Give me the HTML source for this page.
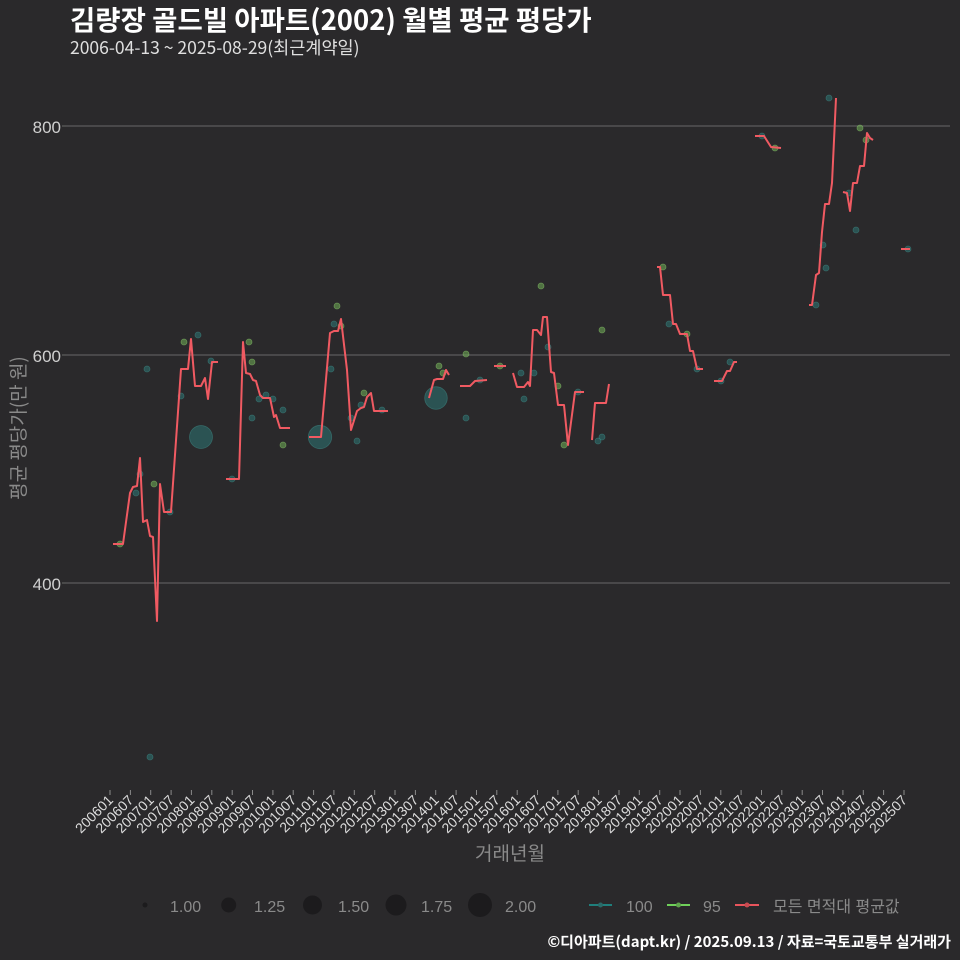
<!DOCTYPE html>
<html><head><meta charset="utf-8"><style>
html,body{margin:0;padding:0;background:#2a292b;}
svg{display:block;}
text{font-family:"Liberation Sans","Noto Sans CJK KR",sans-serif;}
.k{font-family:"Noto Sans CJK KR","Liberation Sans",sans-serif;}
</style></head><body>
<svg width="960" height="960" viewBox="0 0 960 960" xmlns="http://www.w3.org/2000/svg">
<rect width="960" height="960" fill="#2a292b"/>
<text class="k" x="70" y="30" font-size="27.5" font-weight="700" fill="#ffffff">김량장 골드빌 아파트(2002) 월별 평균 평당가</text>
<text class="k" x="70" y="54" font-size="17.5" fill="#e0e0e0">2006-04-13 ~ 2025-08-29(최근계약일)</text>

<g stroke="#5c5c5c" stroke-width="1.3">
<line x1="66" y1="126" x2="950" y2="126"/>
<line x1="66" y1="355" x2="950" y2="355"/>
<line x1="66" y1="583" x2="950" y2="583"/>
<line x1="62" y1="126" x2="66" y2="126"/>
<line x1="62" y1="355" x2="66" y2="355"/>
<line x1="62" y1="583" x2="66" y2="583"/>
</g>
<g font-size="17" fill="#d0d0d0" text-anchor="end">
<text x="61" y="133">800</text>
<text x="61" y="362">600</text>
<text x="61" y="590">400</text>
</g>
<text class="k" transform="translate(25,428) rotate(-90)" font-size="19" fill="#8a8a8a" text-anchor="middle">평균 평당가(만 원)</text>

<!-- points -->
<g fill="#2c7e7c" fill-opacity="0.5" stroke="#3f8f8c" stroke-opacity="0.5" stroke-width="0.8">
<circle cx="201" cy="437" r="11.5"/><circle cx="320" cy="437" r="11.7"/><circle cx="436" cy="398" r="11.3"/>
<circle cx="147" cy="369" r="3"/><circle cx="181" cy="396" r="3"/><circle cx="198" cy="335" r="3"/><circle cx="211" cy="361" r="3"/>
<circle cx="140" cy="474" r="3"/><circle cx="136" cy="493" r="3"/><circle cx="170" cy="512" r="3"/><circle cx="232" cy="479" r="3"/>
<circle cx="150" cy="757" r="3"/><circle cx="252" cy="418" r="3"/><circle cx="259" cy="399" r="3"/><circle cx="266" cy="395" r="3"/>
<circle cx="273" cy="399" r="3"/><circle cx="283" cy="410" r="3"/><circle cx="334" cy="324" r="3"/><circle cx="331" cy="369" r="3"/>
<circle cx="361" cy="405" r="3"/><circle cx="351" cy="418" r="3"/><circle cx="357" cy="441" r="3"/><circle cx="382" cy="410" r="3"/>
<circle cx="466" cy="418" r="3"/><circle cx="480" cy="380" r="3"/><circle cx="521" cy="373" r="3"/><circle cx="534" cy="373" r="3"/>
<circle cx="524" cy="399" r="3"/><circle cx="548" cy="347" r="3"/><circle cx="578" cy="392" r="3"/><circle cx="598" cy="441" r="3"/>
<circle cx="602" cy="437" r="3"/><circle cx="669" cy="324" r="3"/><circle cx="697" cy="369" r="3"/><circle cx="721" cy="381" r="3"/>
<circle cx="730" cy="362" r="3"/><circle cx="762" cy="136" r="3"/><circle cx="816" cy="305" r="3"/><circle cx="826" cy="268" r="3"/>
<circle cx="823" cy="245" r="3"/><circle cx="829" cy="98" r="3"/><circle cx="849" cy="193" r="3"/><circle cx="856" cy="230" r="3"/>
<circle cx="908" cy="249" r="3"/>
</g>
<g fill="#6fae55" fill-opacity="0.55" stroke="#8fd070" stroke-opacity="0.5" stroke-width="0.8">
<circle cx="184" cy="342" r="3"/><circle cx="154" cy="484" r="3"/><circle cx="120" cy="544" r="3"/><circle cx="249" cy="342" r="3"/>
<circle cx="252" cy="362" r="3"/><circle cx="283" cy="445" r="3"/><circle cx="337" cy="306" r="3"/><circle cx="341" cy="326" r="3"/>
<circle cx="364" cy="393" r="3"/><circle cx="439" cy="366" r="3"/><circle cx="443" cy="373" r="3"/><circle cx="466" cy="354" r="3"/>
<circle cx="500" cy="366" r="3"/><circle cx="558" cy="386" r="3"/><circle cx="564" cy="445" r="3"/><circle cx="602" cy="330" r="3"/>
<circle cx="541" cy="286" r="3"/><circle cx="663" cy="267" r="3"/><circle cx="687" cy="334" r="3"/><circle cx="775" cy="148" r="3"/>
<circle cx="860" cy="128" r="3"/><circle cx="866" cy="140" r="3"/>
</g>

<!-- average line -->
<g fill="none" stroke="#f05a62" stroke-width="2" stroke-linejoin="round">
<polyline points="113,544 123,544 130,493 133,487 137,486 140,458 143,522 147,520 150,536 153,537 157,621 160,484 164,512 171,512 181,369 188,369 191,339 195,386 201,386 205,378 208,399 212,362 218,362"/>
<polyline points="226,479 239,479 243,342 246,373 250,374 253,380 256,381 260,395 263,398 270,398 274,417 276,415 280,428 290,428"/>
<polyline points="309,437 321,437 330,333 334,331 338,331 341,319 347,370 351,430 357,411 361,408 364,407 367,397 371,393 374,411 388,411"/>
<polyline points="429,398 434,380 437,379 443,379 446,370 449,375"/>
<polyline points="460,386 470,386 475,381 487,380"/>
<polyline points="494,366 506,366"/>
<polyline points="513,373 517,387 524,387 528,382 530,386 533,330 537,330 541,335 543,317 547,317 551,372 554,373 558,405 564,405 568,445 575,392 584,392"/>
<polyline points="592,440 595,403 606,403 609,384"/>
<polyline points="657,267 660,267 663,295 670,295 673,324 676,324 680,334 687,334 690,351 693,351 697,369 703,369"/>
<polyline points="714,381 722,381 727,371 730,371 734,362 737,362"/>
<polyline points="755,136 764,136 771,147 781,148"/>
<polyline points="809,305 812,305 816,275 819,273 822,232 825,204 829,204 832,183 836,98"/>
<polyline points="843,192 847,193 850,211 853,183 857,183 860,166 864,166 867,133 870,138 873,140"/>
<polyline points="901,249 910,249"/>
</g>

<!-- x ticks -->
<g stroke="#8a8a8a" stroke-width="1">
<line x1="110" y1="790" x2="110" y2="795"/><line x1="130.4" y1="790" x2="130.4" y2="795"/><line x1="150.7" y1="790" x2="150.7" y2="795"/><line x1="171.1" y1="790" x2="171.1" y2="795"/>
<line x1="191.4" y1="790" x2="191.4" y2="795"/><line x1="211.8" y1="790" x2="211.8" y2="795"/><line x1="232.2" y1="790" x2="232.2" y2="795"/><line x1="252.5" y1="790" x2="252.5" y2="795"/>
<line x1="272.9" y1="790" x2="272.9" y2="795"/><line x1="293.2" y1="790" x2="293.2" y2="795"/><line x1="313.6" y1="790" x2="313.6" y2="795"/><line x1="333.9" y1="790" x2="333.9" y2="795"/>
<line x1="354.3" y1="790" x2="354.3" y2="795"/><line x1="374.7" y1="790" x2="374.7" y2="795"/><line x1="395" y1="790" x2="395" y2="795"/><line x1="415.4" y1="790" x2="415.4" y2="795"/>
<line x1="435.7" y1="790" x2="435.7" y2="795"/><line x1="456.1" y1="790" x2="456.1" y2="795"/><line x1="476.5" y1="790" x2="476.5" y2="795"/><line x1="496.8" y1="790" x2="496.8" y2="795"/>
<line x1="517.2" y1="790" x2="517.2" y2="795"/><line x1="537.5" y1="790" x2="537.5" y2="795"/><line x1="557.9" y1="790" x2="557.9" y2="795"/><line x1="578.2" y1="790" x2="578.2" y2="795"/>
<line x1="598.6" y1="790" x2="598.6" y2="795"/><line x1="619" y1="790" x2="619" y2="795"/><line x1="639.3" y1="790" x2="639.3" y2="795"/><line x1="659.7" y1="790" x2="659.7" y2="795"/>
<line x1="680" y1="790" x2="680" y2="795"/><line x1="700.4" y1="790" x2="700.4" y2="795"/><line x1="720.8" y1="790" x2="720.8" y2="795"/><line x1="741.1" y1="790" x2="741.1" y2="795"/>
<line x1="761.5" y1="790" x2="761.5" y2="795"/><line x1="781.8" y1="790" x2="781.8" y2="795"/><line x1="802.2" y1="790" x2="802.2" y2="795"/><line x1="822.5" y1="790" x2="822.5" y2="795"/>
<line x1="842.9" y1="790" x2="842.9" y2="795"/><line x1="863.3" y1="790" x2="863.3" y2="795"/><line x1="883.6" y1="790" x2="883.6" y2="795"/><line x1="904" y1="790" x2="904" y2="795"/>
</g>
<g font-size="14" fill="#dcdcdc" text-anchor="end">
<text transform="translate(114,801) rotate(-45)">200601</text>
<text transform="translate(134.4,801) rotate(-45)">200607</text>
<text transform="translate(154.7,801) rotate(-45)">200701</text>
<text transform="translate(175.1,801) rotate(-45)">200707</text>
<text transform="translate(195.4,801) rotate(-45)">200801</text>
<text transform="translate(215.8,801) rotate(-45)">200807</text>
<text transform="translate(236.2,801) rotate(-45)">200901</text>
<text transform="translate(256.5,801) rotate(-45)">200907</text>
<text transform="translate(276.9,801) rotate(-45)">201001</text>
<text transform="translate(297.2,801) rotate(-45)">201007</text>
<text transform="translate(317.6,801) rotate(-45)">201101</text>
<text transform="translate(337.9,801) rotate(-45)">201107</text>
<text transform="translate(358.3,801) rotate(-45)">201201</text>
<text transform="translate(378.7,801) rotate(-45)">201207</text>
<text transform="translate(399,801) rotate(-45)">201301</text>
<text transform="translate(419.4,801) rotate(-45)">201307</text>
<text transform="translate(439.7,801) rotate(-45)">201401</text>
<text transform="translate(460.1,801) rotate(-45)">201407</text>
<text transform="translate(480.5,801) rotate(-45)">201501</text>
<text transform="translate(500.8,801) rotate(-45)">201507</text>
<text transform="translate(521.2,801) rotate(-45)">201601</text>
<text transform="translate(541.5,801) rotate(-45)">201607</text>
<text transform="translate(561.9,801) rotate(-45)">201701</text>
<text transform="translate(582.2,801) rotate(-45)">201707</text>
<text transform="translate(602.6,801) rotate(-45)">201801</text>
<text transform="translate(623,801) rotate(-45)">201807</text>
<text transform="translate(643.3,801) rotate(-45)">201901</text>
<text transform="translate(663.7,801) rotate(-45)">201907</text>
<text transform="translate(684,801) rotate(-45)">202001</text>
<text transform="translate(704.4,801) rotate(-45)">202007</text>
<text transform="translate(724.8,801) rotate(-45)">202101</text>
<text transform="translate(745.1,801) rotate(-45)">202107</text>
<text transform="translate(765.5,801) rotate(-45)">202201</text>
<text transform="translate(785.8,801) rotate(-45)">202207</text>
<text transform="translate(806.2,801) rotate(-45)">202301</text>
<text transform="translate(826.5,801) rotate(-45)">202307</text>
<text transform="translate(846.9,801) rotate(-45)">202401</text>
<text transform="translate(867.3,801) rotate(-45)">202407</text>
<text transform="translate(887.6,801) rotate(-45)">202501</text>
<text transform="translate(908,801) rotate(-45)">202507</text>
</g>
<text class="k" x="510" y="860" font-size="19" fill="#8a8a8a" text-anchor="middle">거래년월</text>

<!-- legend -->
<g fill="#1c1b1d">
<circle cx="145" cy="905" r="2.5"/>
<circle cx="228.7" cy="905" r="7.5"/>
<circle cx="312.5" cy="905" r="9.5"/>
<circle cx="396" cy="905" r="10.5"/>
<circle cx="480" cy="905" r="12"/>
</g>
<g class="k" font-size="16" fill="#8a8a8a">
<text x="170" y="912">1.00</text>
<text x="254" y="912">1.25</text>
<text x="338" y="912">1.50</text>
<text x="421" y="912">1.75</text>
<text x="505" y="912">2.00</text>
<text x="626" y="912">100</text>
<text x="703" y="912">95</text>
<text x="773" y="912">모든 면적대 평균값</text>
</g>
<line x1="589" y1="905" x2="612" y2="905" stroke="#1f7f7c" stroke-width="2"/>
<circle cx="600.5" cy="905" r="2.5" fill="#2a6a68"/>
<line x1="667" y1="905" x2="690" y2="905" stroke="#6fd05a" stroke-width="2"/>
<circle cx="678.5" cy="905" r="2.5" fill="#5fa54c"/>
<line x1="735" y1="905" x2="759" y2="905" stroke="#e8545c" stroke-width="2"/>
<circle cx="747" cy="905" r="2.5" fill="#c84a50"/>

<text class="k" x="951" y="947" font-size="15" font-weight="700" fill="#ffffff" text-anchor="end">©디아파트(dapt.kr) / 2025.09.13 / 자료=국토교통부 실거래가</text>
</svg>
</body></html>
